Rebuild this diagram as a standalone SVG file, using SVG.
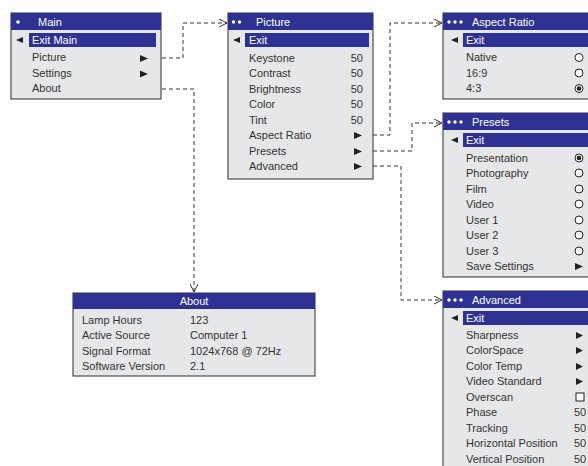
<svg xmlns="http://www.w3.org/2000/svg" width="588" height="466" viewBox="0 0 588 466">
<defs>
<style>
.box{fill:#e6e7e8;stroke:#4d4d4d;stroke-width:1.2}
.bar{fill:#2e3192}
.t{font-family:"Liberation Sans",Arial,sans-serif;font-size:11px;fill:#333}
.w{fill:#fff}
.tri{fill:#222}
.dot{fill:#fff}
.rad{fill:#fff;stroke:#222;stroke-width:1}
.con{fill:none;stroke:#333;stroke-width:1;stroke-dasharray:4,3}
</style>
<marker id="ah" markerWidth="10" markerHeight="10" refX="8" refY="4" orient="auto" markerUnits="userSpaceOnUse">
<path d="M0,0 L8,4 L0,8" fill="none" stroke="#333" stroke-width="1"/>
</marker>
</defs>

<g id="connectors">
<path class="con" d="M162,58 H183 V23 H227" marker-end="url(#ah)"/>
<path class="con" d="M162,89 H194 V292" marker-end="url(#ah)"/>
<path class="con" d="M373,135 H390 V23 H442" marker-end="url(#ah)"/>
<path class="con" d="M373,151 H412 V123 H442" marker-end="url(#ah)"/>
<path class="con" d="M373,166 H401 V300 H442" marker-end="url(#ah)"/>
</g>

<g id="main">
<rect class="box" x="11" y="13" width="150" height="86"/>
<rect class="bar" x="11" y="13" width="150" height="17"/>
<circle class="dot" cx="18" cy="22" r="1.8"/>
<text class="t w" x="38" y="26">Main</text>
<path class="tri" d="M16,40 L23,37 L23,43 Z"/>
<rect class="bar" x="29" y="33" width="127" height="14"/>
<text class="t w" x="32" y="44">Exit Main</text>
<text class="t" x="32" y="61">Picture</text>
<path class="tri" d="M140,55 L148,58.5 L140,62 Z"/>
<text class="t" x="32" y="77">Settings</text>
<path class="tri" d="M140,70.5 L148,74 L140,77.5 Z"/>
<text class="t" x="32" y="92">About</text>
</g>

<g id="picture">
<rect class="box" x="228" y="13" width="145" height="166"/>
<rect class="bar" x="228" y="13" width="145" height="17"/>
<circle class="dot" cx="233.5" cy="22" r="1.7"/>
<circle class="dot" cx="239.5" cy="22" r="1.7"/>
<text class="t w" x="256" y="26">Picture</text>
<path class="tri" d="M233,40 L240,37 L240,43 Z"/>
<rect class="bar" x="245" y="33" width="124" height="14"/>
<text class="t w" x="249" y="44">Exit</text>
<text class="t" x="249" y="62">Keystone</text><text class="t" x="363" y="62" text-anchor="end">50</text>
<text class="t" x="249" y="77">Contrast</text><text class="t" x="363" y="77" text-anchor="end">50</text>
<text class="t" x="249" y="93">Brightness</text><text class="t" x="363" y="93" text-anchor="end">50</text>
<text class="t" x="249" y="108">Color</text><text class="t" x="363" y="108" text-anchor="end">50</text>
<text class="t" x="249" y="124">Tint</text><text class="t" x="363" y="124" text-anchor="end">50</text>
<text class="t" x="249" y="139">Aspect Ratio</text>
<path class="tri" d="M354,132 L362,135.5 L354,139 Z"/>
<text class="t" x="249" y="155">Presets</text>
<path class="tri" d="M354,148 L362,151.5 L354,155 Z"/>
<text class="t" x="249" y="170">Advanced</text>
<path class="tri" d="M354,163 L362,166.5 L354,170 Z"/>
</g>

<g id="aspect-ratio">
<rect class="box" x="443" y="13" width="150" height="86"/>
<rect class="bar" x="443" y="13" width="150" height="17"/>
<circle class="dot" cx="449" cy="22" r="1.7"/>
<circle class="dot" cx="455" cy="22" r="1.7"/>
<circle class="dot" cx="461" cy="22" r="1.7"/>
<text class="t w" x="472" y="26">Aspect Ratio</text>
<path class="tri" d="M451,40 L458,37 L458,43 Z"/>
<rect class="bar" x="463" y="33" width="130" height="14"/>
<text class="t w" x="466" y="44">Exit</text>
<text class="t" x="466" y="61">Native</text><circle class="rad" cx="579" cy="57.5" r="4"/>
<text class="t" x="466" y="77">16:9</text><circle class="rad" cx="579" cy="73" r="4"/>
<text class="t" x="466" y="92">4:3</text><circle class="rad" cx="579" cy="88.5" r="4"/><circle cx="579" cy="88.5" r="2.3" fill="#222"/>
</g>

<g id="presets">
<rect class="box" x="443" y="113" width="150" height="164"/>
<rect class="bar" x="443" y="113" width="150" height="17"/>
<circle class="dot" cx="449" cy="122" r="1.7"/>
<circle class="dot" cx="455" cy="122" r="1.7"/>
<circle class="dot" cx="461" cy="122" r="1.7"/>
<text class="t w" x="472" y="126">Presets</text>
<path class="tri" d="M451,140 L458,137 L458,143 Z"/>
<rect class="bar" x="463" y="133" width="130" height="14"/>
<text class="t w" x="466" y="144">Exit</text>
<text class="t" x="466" y="162">Presentation</text><circle class="rad" cx="579" cy="158" r="4"/><circle cx="579" cy="158" r="2.3" fill="#222"/>
<text class="t" x="466" y="177">Photography</text><circle class="rad" cx="579" cy="173" r="4"/>
<text class="t" x="466" y="193">Film</text><circle class="rad" cx="579" cy="189" r="4"/>
<text class="t" x="466" y="208">Video</text><circle class="rad" cx="579" cy="204" r="4"/>
<text class="t" x="466" y="224">User 1</text><circle class="rad" cx="579" cy="220" r="4"/>
<text class="t" x="466" y="239">User 2</text><circle class="rad" cx="579" cy="235" r="4"/>
<text class="t" x="466" y="255">User 3</text><circle class="rad" cx="579" cy="251" r="4"/>
<text class="t" x="466" y="270">Save Settings</text>
<path class="tri" d="M575,263 L583,266.5 L575,270 Z"/>
</g>

<g id="advanced">
<rect class="box" x="443" y="291" width="150" height="190"/>
<rect class="bar" x="443" y="291" width="150" height="17"/>
<circle class="dot" cx="449" cy="300" r="1.7"/>
<circle class="dot" cx="455" cy="300" r="1.7"/>
<circle class="dot" cx="461" cy="300" r="1.7"/>
<text class="t w" x="472" y="304">Advanced</text>
<path class="tri" d="M451,318 L458,315 L458,321 Z"/>
<rect class="bar" x="463" y="311" width="130" height="14"/>
<text class="t w" x="466" y="322">Exit</text>
<text class="t" x="466" y="339">Sharpness</text><path class="tri" d="M576,332 L583,335.5 L576,339 Z"/>
<text class="t" x="466" y="354">ColorSpace</text><path class="tri" d="M576,347 L583,350.5 L576,354 Z"/>
<text class="t" x="466" y="370">Color Temp</text><path class="tri" d="M576,363 L583,366.5 L576,370 Z"/>
<text class="t" x="466" y="385">Video Standard</text><path class="tri" d="M576,378 L583,381.5 L576,385 Z"/>
<text class="t" x="466" y="401">Overscan</text><rect x="576" y="393" width="8" height="8" fill="#fff" stroke="#222" stroke-width="1"/>
<text class="t" x="466" y="416">Phase</text><text class="t" x="574" y="416">50</text>
<text class="t" x="466" y="432">Tracking</text><text class="t" x="574" y="432">50</text>
<text class="t" x="466" y="447">Horizontal Position</text><text class="t" x="574" y="447">50</text>
<text class="t" x="466" y="463">Vertical Position</text><text class="t" x="574" y="463">50</text>
</g>

<g id="about">
<rect class="box" x="73" y="293" width="242" height="83"/>
<rect class="bar" x="73" y="293" width="242" height="16"/>
<text class="t w" x="194" y="305" text-anchor="middle">About</text>
<text class="t" x="82" y="324">Lamp Hours</text><text class="t" x="190" y="324">123</text>
<text class="t" x="82" y="339">Active Source</text><text class="t" x="190" y="339">Computer 1</text>
<text class="t" x="82" y="355">Signal Format</text><text class="t" x="190" y="355">1024x768 @ 72Hz</text>
<text class="t" x="82" y="370">Software Version</text><text class="t" x="190" y="370">2.1</text>
</g>
</svg>
